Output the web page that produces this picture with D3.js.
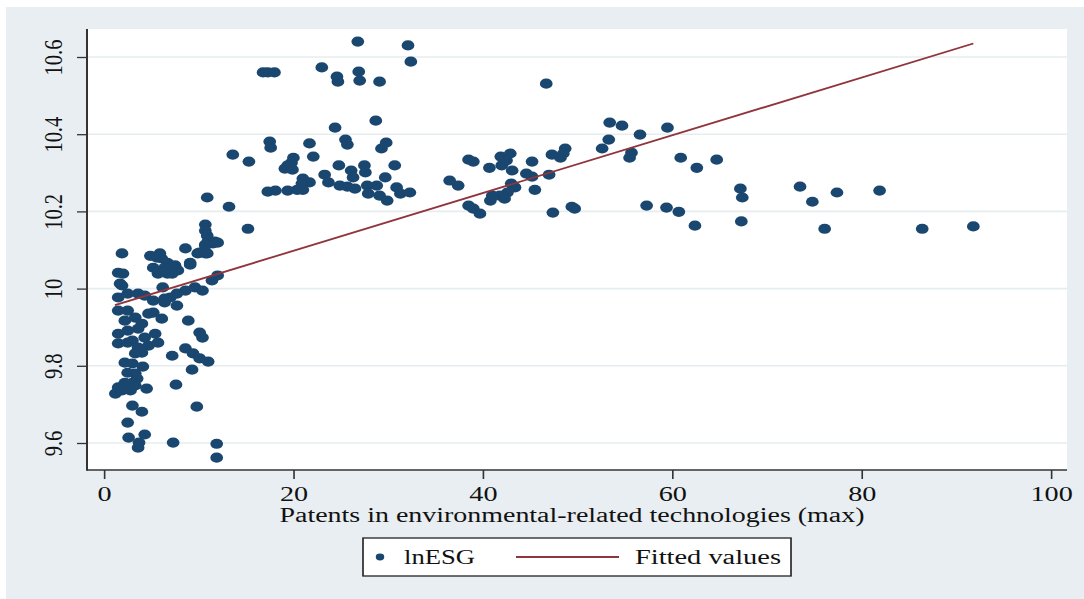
<!DOCTYPE html>
<html>
<head>
<meta charset="utf-8">
<script src="https://cdn.jsdelivr.net/npm/d3@7"></script>
<style>
body { margin: 0; background: #fff; }
svg { display: block; }
text { font-family: "Liberation Serif", "Times New Roman", serif; fill: #111; }
</style>
</head>
<body>
<script>
// patents (max) vs lnESG
var patents = [
    1.9, 4.9, 5.6, 6.1, 6.7, 7.5, 7.8, 7.2, 5.7, 5.2, 6.4, 8.6, 10.7, 11.5, 9.9, 10.7, 9.1, 1.5, 2.0, 1.7,
    1.5, 2.5, 3.6, 4.3, 5.2, 6.4, 7.7, 8.6, 9.6, 10.4, 11.4, 12.0, 6.7, 6.4, 7.7, 1.5, 2.5, 2.2, 3.3, 4.0,
    2.5, 3.6, 4.7, 5.2, 6.1, 8.9, 10.1, 10.4, 1.5, 3.0, 4.3, 5.4, 3.6, 1.5, 2.5, 4.7, 5.7, 4.0, 3.3, 7.2,
    8.6, 9.4, 10.1, 11.0, 9.3, 2.2, 3.0, 4.1, 2.5, 3.3, 3.5, 1.5, 2.2, 3.0, 1.2, 1.9, 2.8, 3.3, 4.5, 7.6,
    3.0, 4.0, 9.8, 2.5, 2.6, 4.3, 3.6, 3.7, 7.3, 11.9, 11.9, 10.9, 13.2, 15.2, 10.7, 10.7, 10.9, 11.0, 11.7, 12.0,
    10.7, 10.1, 10.9, 9.1, 6.2, 7.0, 1.9, 5.9,
    26.8, 32.1, 32.4, 16.8, 17.3, 18.0, 23.0, 24.6, 24.7, 26.9, 27.0, 29.1, 28.7, 24.4, 17.5, 17.6, 21.7, 25.5, 25.7, 29.8,
    29.3, 13.6, 15.3, 20.0, 19.8, 19.1, 19.9, 19.4, 22.1, 24.8, 27.5, 27.6, 30.7, 26.1, 26.3, 29.7, 21.0, 21.7, 20.9, 23.3,
    23.7, 17.3, 18.1, 19.4, 20.4, 21.0, 24.9, 25.7, 26.5, 27.8, 28.8, 27.9, 29.1, 29.9, 30.9, 31.3, 32.3,
    46.7, 53.4, 54.7, 56.6, 59.5, 53.3, 52.6, 55.7, 55.5, 60.9, 62.6, 64.7, 38.5, 39.0, 40.7, 41.9, 42.9, 42.5, 42.0, 43.1,
    45.2, 47.3, 48.2, 48.7, 48.5, 44.6, 45.2, 47.0, 36.5, 37.4, 43.0, 43.4, 42.6, 41.8, 40.8, 41.0, 42.3, 45.5, 38.5, 39.0,
    39.7, 47.4, 49.4, 49.7, 57.3, 59.4, 60.7, 62.4, 67.2, 67.4, 67.3, 73.5, 74.8, 77.4, 81.9, 76.1, 86.4, 91.8
];
var lnESG = [
    10.091, 10.085, 10.080, 10.078, 10.067, 10.060, 10.047, 10.039, 10.039, 10.054, 10.054, 10.104, 10.114, 10.117, 10.091, 10.091, 10.062, 10.041, 10.039, 10.013,
    9.977, 9.987, 9.987, 9.982, 9.969, 9.974, 9.987, 9.995, 10.003, 9.995, 10.021, 10.034, 10.039, 9.964, 9.956, 9.943, 9.943, 9.917, 9.925, 9.909,
    9.891, 9.896, 9.935, 9.938, 9.922, 9.917, 9.886, 9.873, 9.858, 9.865, 9.873, 9.883, 9.847, 9.883, 9.860, 9.852, 9.860, 9.834, 9.832, 9.826,
    9.845, 9.832, 9.819, 9.811, 9.790, 9.808, 9.806, 9.798, 9.782, 9.780, 9.767, 9.744, 9.756, 9.756, 9.728, 9.736, 9.736, 9.749, 9.741, 9.751,
    9.697, 9.681, 9.694, 9.653, 9.614, 9.622, 9.588, 9.601, 9.601, 9.598, 9.562, 10.236, 10.212, 10.155, 10.166, 10.150, 10.137, 10.124, 10.122, 10.119,
    10.111, 10.093, 10.091, 10.067, 10.003, 9.977, 10.008, 10.091,
    10.640, 10.630, 10.588, 10.560, 10.560, 10.560, 10.573, 10.549, 10.536, 10.562, 10.539, 10.536, 10.435, 10.417, 10.381, 10.365, 10.376, 10.386, 10.373, 10.378,
    10.363, 10.347, 10.329, 10.339, 10.326, 10.311, 10.308, 10.319, 10.342, 10.319, 10.319, 10.301, 10.319, 10.306, 10.288, 10.288, 10.285, 10.275, 10.272, 10.295,
    10.275, 10.251, 10.254, 10.254, 10.256, 10.256, 10.267, 10.264, 10.259, 10.267, 10.267, 10.246, 10.241, 10.228, 10.262, 10.246, 10.249,
    10.531, 10.430, 10.422, 10.399, 10.417, 10.386, 10.363, 10.352, 10.339, 10.339, 10.313, 10.334, 10.334, 10.329, 10.313, 10.342, 10.350, 10.332, 10.319, 10.306,
    10.329, 10.347, 10.339, 10.363, 10.350, 10.298, 10.290, 10.295, 10.280, 10.267, 10.272, 10.262, 10.249, 10.241, 10.228, 10.241, 10.233, 10.256, 10.215, 10.207,
    10.194, 10.197, 10.212, 10.207, 10.215, 10.210, 10.199, 10.163, 10.259, 10.236, 10.174, 10.264, 10.225, 10.249, 10.254, 10.155, 10.155, 10.161
];
// fitted line end points
var fitX = [1.16, 91.8];
var fitY = [9.957, 10.635];

var xTicks = [0, 20, 40, 60, 80, 100];
var yTicks = [9.6, 9.8, 10, 10.2, 10.4, 10.6];
var yTickLabels = ["9.6", "9.8", "10", "10.2", "10.4", "10.6"];
var xTitle = "Patents in environmental-related technologies (max)";
var legendNames = ["lnESG", "Fitted values"];

// the picture is stretched sideways, so draw in a narrower box and stretch it
var SX = 1.25, W = 1084, H = 599, TX = 1.1;
function px(v) { return v / SX; }

var navy = "#1a476f", maroon = "#90353b", bg = "#e8eef1";
var pLeft = 87, pRight = 1067, pTop = 29, pBottom = 470;

var svg = d3.select("body").append("svg")
    .attr("width", W).attr("height", H)
    .attr("viewBox", "0 0 " + px(W) + " " + H)
    .attr("preserveAspectRatio", "none");

svg.append("rect").attr("x", px(6)).attr("y", 7).attr("width", px(W - 6)).attr("height", H - 7).attr("fill", bg);
svg.append("rect").attr("x", px(pLeft)).attr("y", pTop).attr("width", px(pRight - pLeft)).attr("height", pBottom - pTop).attr("fill", "#fff");

var x = d3.scaleLinear().domain([0, 100]).range([px(104), px(1051)]);
var y = d3.scaleLinear().domain([9.6, 10.6]).range([443, 57]);

// grid
svg.append("g").selectAll("line").data(yTicks).enter().append("line")
    .attr("x1", px(pLeft)).attr("x2", px(pRight))
    .attr("y1", function (d) { return y(d); }).attr("y2", function (d) { return y(d); })
    .attr("stroke", "#e6edf0").attr("stroke-width", 1.6);

// axes
var xAxis = svg.append("g").attr("transform", "translate(0," + pBottom + ")")
    .call(d3.axisBottom(x).tickValues(xTicks).tickSize(9).tickSizeOuter(0).tickPadding(7).tickFormat(d3.format("d")));
xAxis.select(".domain").remove();
xAxis.selectAll("line").attr("stroke", "#333").attr("stroke-width", 1.3);
xAxis.selectAll("text").attr("font-size", 20.5).attr("fill", "#111")
    .attr("transform", "scale(" + TX + ",1)")
    .style("font-family", '"Liberation Serif", serif');

var yAxis = svg.append("g").attr("transform", "translate(" + px(pLeft) + ",0)")
    .call(d3.axisLeft(y).tickValues(yTicks).tickSize(px(10)).tickSizeOuter(0).tickFormat(function (d, i) { return yTickLabels[i]; }));
yAxis.select(".domain").remove();
yAxis.selectAll("line").attr("stroke", "#333").attr("stroke-width", 1.3);
yAxis.selectAll("text")
    .attr("x", 0).attr("dy", 0).attr("text-anchor", "middle")
    .attr("transform", "translate(" + px(62 - pLeft) + ",0) rotate(-90)")
    .attr("font-size", 20.5).attr("fill", "#111").style("font-family", '"Liberation Serif", serif');

svg.append("line").attr("x1", px(pLeft)).attr("x2", px(pLeft)).attr("y1", pTop).attr("y2", pBottom + 0.7)
    .attr("stroke", "#333").attr("stroke-width", 1.6);
svg.append("line").attr("x1", px(pLeft)).attr("x2", px(pRight)).attr("y1", pBottom).attr("y2", pBottom)
    .attr("stroke", "#333").attr("stroke-width", 1.6);

// points
svg.append("g").selectAll("circle").data(patents).enter().append("circle")
    .attr("cx", function (d) { return x(d); })
    .attr("cy", function (d, i) { return y(lnESG[i]); })
    .attr("r", 5.1).attr("fill", navy);

// fitted line
var line = d3.line().x(function (d) { return x(d); }).y(function (d, i) { return y(fitY[i]); });
svg.append("path").datum(fitX).attr("d", line).attr("fill", "none").attr("stroke", maroon).attr("stroke-width", 1.8);

// x title
svg.append("text").attr("x", px(572)).attr("y", 522).attr("text-anchor", "middle").attr("font-size", 20.5)
    .attr("textLength", px(585)).attr("lengthAdjust", "spacingAndGlyphs").text(xTitle);

// legend
var lg = svg.append("g");
lg.append("rect").attr("x", px(363)).attr("y", 538).attr("width", px(791 - 363)).attr("height", 38)
    .attr("fill", "#fff").attr("stroke", "#222").attr("stroke-width", 1.3);
lg.append("circle").attr("cx", px(380)).attr("cy", 557).attr("r", 3.4).attr("fill", navy);
lg.append("text").attr("x", px(404)).attr("y", 564).attr("font-size", 20.5)
    .attr("textLength", px(71)).attr("lengthAdjust", "spacingAndGlyphs").text(legendNames[0]);
lg.append("line").attr("x1", px(516)).attr("x2", px(619)).attr("y1", 557).attr("y2", 557).attr("stroke", maroon).attr("stroke-width", 1.8);
lg.append("text").attr("x", px(635)).attr("y", 564).attr("font-size", 20.5)
    .attr("textLength", px(146)).attr("lengthAdjust", "spacingAndGlyphs").text(legendNames[1]);
</script>
</body>
</html>
